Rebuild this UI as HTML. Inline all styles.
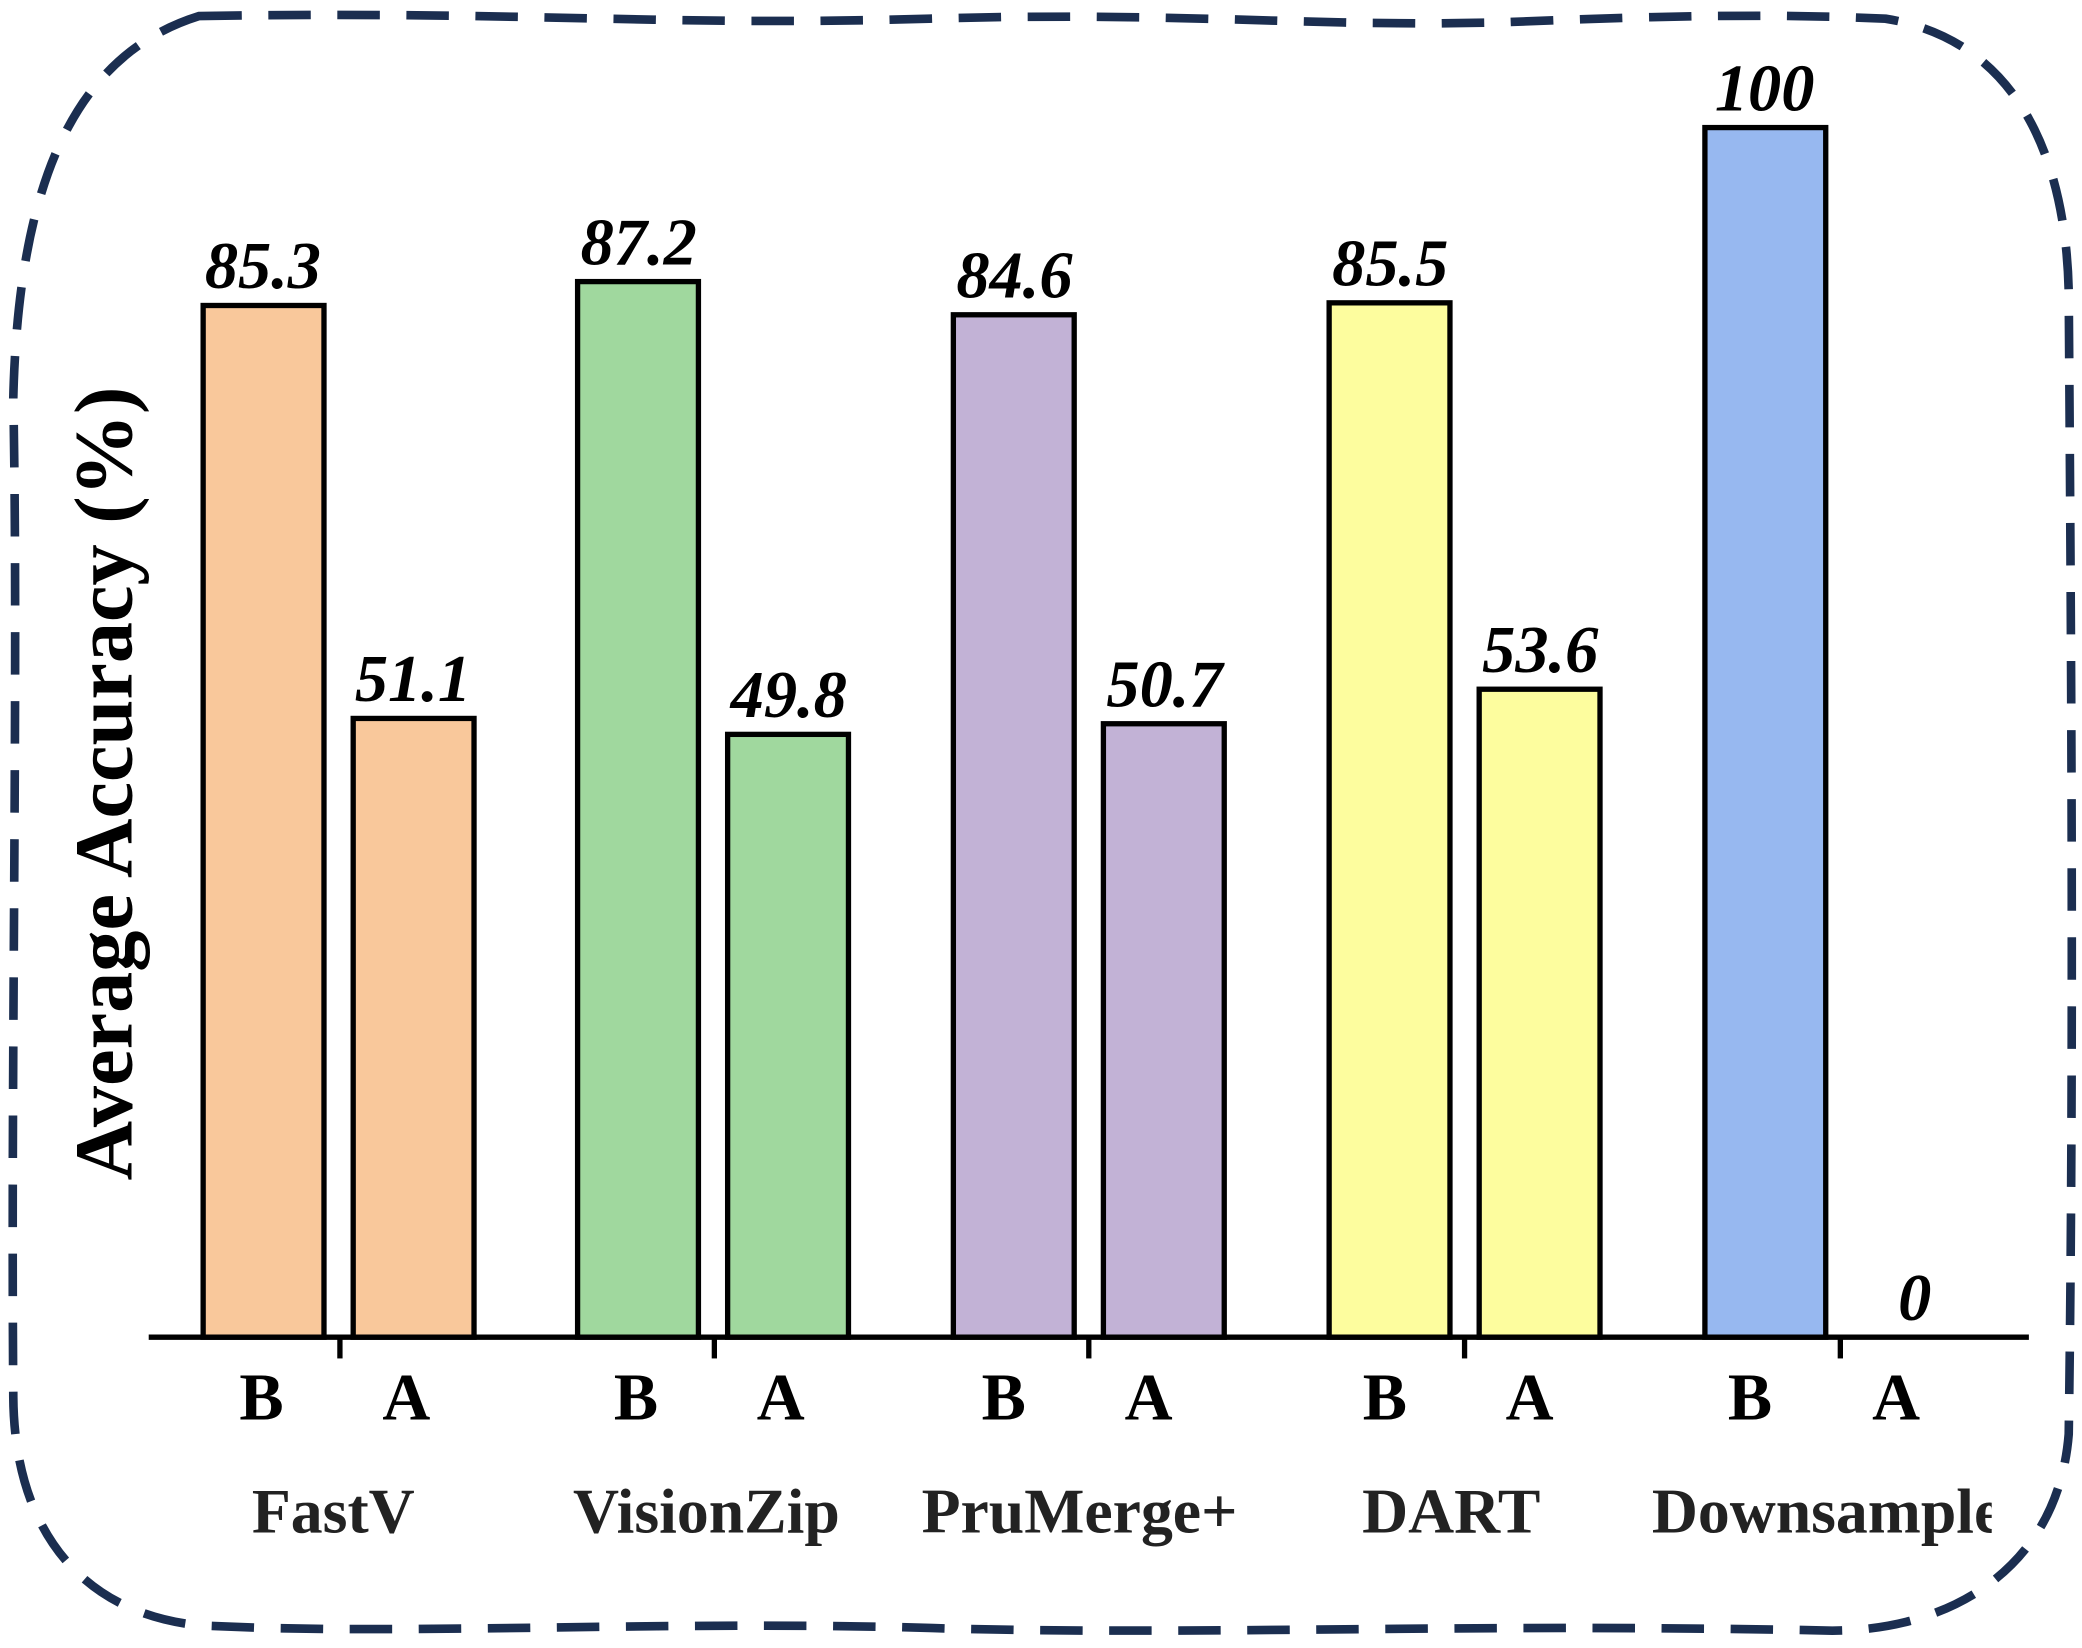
<!DOCTYPE html>
<html><head><style>html,body{margin:0;padding:0;background:#fff;}svg{display:block}</style></head>
<body>
<svg width="2082" height="1648" viewBox="0 0 1568 1241" xmlns="http://www.w3.org/2000/svg">
<defs><clipPath id="c"><rect x="0" y="0" width="1500" height="1241"/></clipPath></defs>
<path d="M150,12 C400,8 500,20 700,14 C900,8 1000,22 1150,16 C1250,12 1330,10 1420,14 C1520,30 1556,120 1558,220 C1560,500 1562,800 1558,1080 C1550,1180 1470,1228 1380,1228 C1100,1222 900,1232 700,1226 C500,1220 300,1232 150,1224 C60,1215 10,1150 10,1050 C8,800 14,500 10,300 C14,130 60,40 150,12 Z" fill="none" stroke="#1B2E50" stroke-width="6.5" stroke-dasharray="32 20"/>
<g stroke="#000" stroke-width="4">
<rect x="153" y="230" width="91" height="777" fill="#F9C89B"/>
<rect x="266" y="541" width="91" height="466" fill="#F9C89B"/>
<rect x="435" y="212" width="91" height="795" fill="#A0D89E"/>
<rect x="548" y="553" width="91" height="454" fill="#A0D89E"/>
<rect x="718" y="237" width="91" height="770" fill="#C2B2D6"/>
<rect x="831" y="545" width="91" height="462" fill="#C2B2D6"/>
<rect x="1001" y="228" width="91" height="779" fill="#FDFD9E"/>
<rect x="1114" y="519" width="91" height="488" fill="#FDFD9E"/>
<rect x="1284" y="96" width="91" height="911" fill="#97B8F0"/>
<line x1="112" y1="1007" x2="1528" y2="1007"/>
<line x1="256" y1="1007" x2="256" y2="1023"/>
<line x1="538" y1="1007" x2="538" y2="1023"/>
<line x1="820" y1="1007" x2="820" y2="1023"/>
<line x1="1103" y1="1007" x2="1103" y2="1023"/>
<line x1="1386" y1="1007" x2="1386" y2="1023"/>
</g>
<g font-family="Liberation Serif, serif" font-weight="bold" font-style="italic" font-size="50" text-anchor="middle">
<text x="198" y="217">85.3</text><text x="311" y="528">51.1</text>
<text x="481" y="199">87.2</text><text x="594" y="540">49.8</text>
<text x="764" y="224">84.6</text><text x="877" y="532">50.7</text>
<text x="1047" y="215">85.5</text><text x="1160" y="506">53.6</text>
<text x="1329" y="83">100</text><text x="1442" y="994">0</text>
</g>
<g font-family="Liberation Serif, serif" font-weight="bold" font-size="50" text-anchor="middle">
<text x="197" y="1069">B</text><text x="306" y="1069">A</text>
<text x="479" y="1069">B</text><text x="588" y="1069">A</text>
<text x="756" y="1069">B</text><text x="865" y="1069">A</text>
<text x="1043" y="1069">B</text><text x="1152" y="1069">A</text>
<text x="1318" y="1069">B</text><text x="1428" y="1069">A</text>
</g>
<g font-family="Liberation Serif, serif" font-weight="bold" font-size="48" text-anchor="middle" fill="#222">
<text x="251" y="1154">FastV</text>
<text x="532" y="1154">VisionZip</text>
<text x="813" y="1154">PruMerge+</text>
<text x="1093" y="1154">DART</text>
<text x="1376" y="1154" clip-path="url(#c)">Downsample</text>
</g>
<text transform="translate(99,590) rotate(-90)" font-family="Liberation Serif, serif" font-weight="bold" font-size="62" text-anchor="middle">Average Accuracy (%)</text>
</svg>
</body></html>
